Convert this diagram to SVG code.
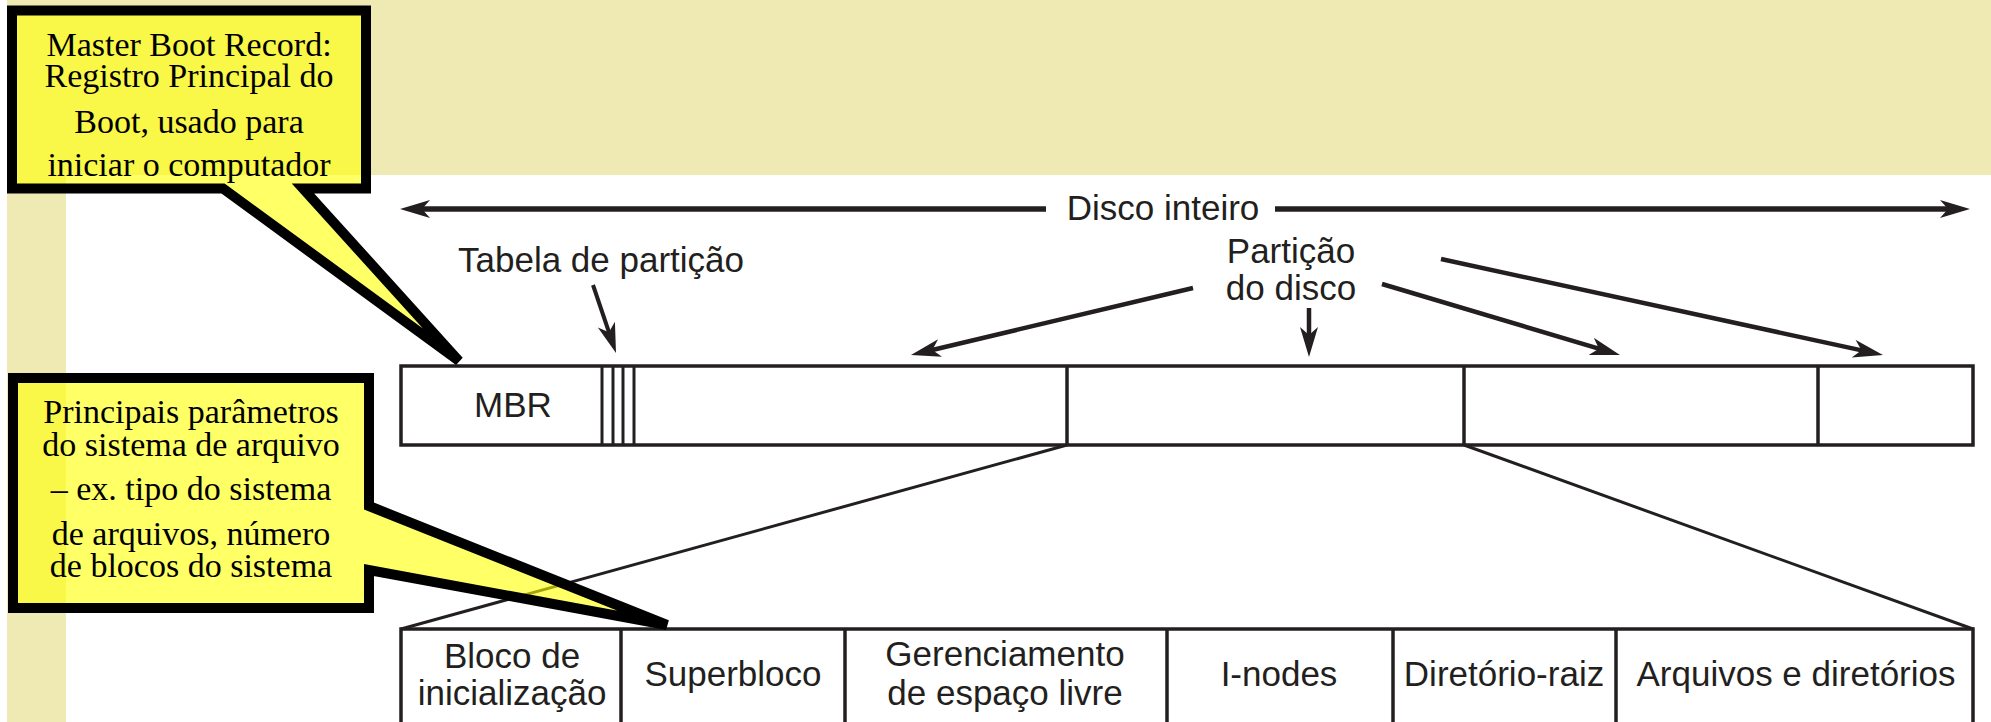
<svg xmlns="http://www.w3.org/2000/svg" width="1991" height="722" viewBox="0 0 1991 722">
<style>
.lbl{font-family:"Liberation Sans",Arial,Helvetica,sans-serif;font-size:35px;fill:#231f20;text-anchor:middle}
.ctxt{font-family:"Liberation Serif","Times New Roman",serif;font-size:34px;fill:#000;text-anchor:middle}
.bar{fill:#fff;stroke:#231f20;stroke-width:3.5}
.ln{stroke:#231f20;fill:none}
.callout{fill:#ffff00;fill-opacity:0.6;stroke:#000;stroke-width:10;stroke-linejoin:miter;stroke-miterlimit:4}
</style>
<defs>
<marker id="ah" markerUnits="userSpaceOnUse" markerWidth="32" markerHeight="20" refX="20" refY="9" orient="auto">
<path d="M0,0 L30,9 L0,18 L8,9 Z" fill="#231f20"/>
</marker>
</defs>
<rect width="1991" height="722" fill="#fff"/>
<g id="background">
<rect x="7" y="0" width="1984" height="175" fill="#efeab4"/>
<rect x="7" y="0" width="59" height="722" fill="#efeab4"/>
</g>
<g id="disk">
<rect class="bar" x="401" y="366" width="1572" height="79"/>
<line class="ln" x1="602" y1="366" x2="602" y2="445" stroke-width="3"/>
<line class="ln" x1="613" y1="366" x2="613" y2="445" stroke-width="3"/>
<line class="ln" x1="623" y1="366" x2="623" y2="445" stroke-width="3"/>
<line class="ln" x1="634" y1="366" x2="634" y2="445" stroke-width="3"/>
<line class="ln" x1="1067" y1="366" x2="1067" y2="445" stroke-width="3.5"/>
<line class="ln" x1="1464" y1="366" x2="1464" y2="445" stroke-width="3.5"/>
<line class="ln" x1="1818" y1="366" x2="1818" y2="445" stroke-width="3.5"/>
<text class="lbl" x="513" y="417">MBR</text>
</g>
<g id="partition-layout">
<path class="ln" stroke-width="3.5" d="M401,730 V629 H1973 V730"/>
<line class="ln" x1="621" y1="629" x2="621" y2="730" stroke-width="3.5"/>
<line class="ln" x1="845" y1="629" x2="845" y2="730" stroke-width="3.5"/>
<line class="ln" x1="1167" y1="629" x2="1167" y2="730" stroke-width="3.5"/>
<line class="ln" x1="1393" y1="629" x2="1393" y2="730" stroke-width="3.5"/>
<line class="ln" x1="1616" y1="629" x2="1616" y2="730" stroke-width="3.5"/>
<text class="lbl" x="512" y="668">Bloco de</text>
<text class="lbl" x="512" y="705">inicialização</text>
<text class="lbl" x="733" y="686">Superbloco</text>
<text class="lbl" x="1005" y="666">Gerenciamento</text>
<text class="lbl" x="1005" y="705">de espaço livre</text>
<text class="lbl" x="1279" y="686">I-nodes</text>
<text class="lbl" x="1504" y="686">Diretório-raiz</text>
<text class="lbl" x="1796" y="686">Arquivos e diretórios</text>
</g>
<g id="labels">
<text class="lbl" x="1163" y="220">Disco inteiro</text>
<text class="lbl" x="458" y="272" style="text-anchor:start">Tabela de partição</text>
<text class="lbl" x="1291" y="263">Partição</text>
<text class="lbl" x="1291" y="300">do disco</text>
</g>
<g id="connectors">
<line class="ln" x1="1046" y1="209" x2="410" y2="209" stroke-width="5.5" marker-end="url(#ah)"/>
<line class="ln" x1="1275" y1="209" x2="1960" y2="209" stroke-width="5.5" marker-end="url(#ah)"/>
<line class="ln" x1="593" y1="285" x2="612.8" y2="343.5" stroke-width="4" marker-end="url(#ah)"/>
<line class="ln" x1="1193" y1="288" x2="920.7" y2="352.7" stroke-width="4.5" marker-end="url(#ah)"/>
<line class="ln" x1="1309" y1="308" x2="1309" y2="347" stroke-width="4.5" marker-end="url(#ah)"/>
<line class="ln" x1="1382" y1="284" x2="1610.4" y2="352.1" stroke-width="4.5" marker-end="url(#ah)"/>
<line class="ln" x1="1441" y1="259" x2="1873.2" y2="352.9" stroke-width="4.5" marker-end="url(#ah)"/>
<line class="ln" x1="1067" y1="445" x2="401" y2="629" stroke-width="3"/>
<line class="ln" x1="1464" y1="445" x2="1973" y2="629" stroke-width="3"/>
</g>
<g id="callout-mbr">
<path class="callout" d="M12,10.5 H366 V188.5 H303 L459,361 L223,188.5 H12 Z"/>
<text class="ctxt" x="189" y="56">Master Boot Record:</text>
<text class="ctxt" x="189" y="87">Registro Principal do</text>
<text class="ctxt" x="189" y="133">Boot, usado para</text>
<text class="ctxt" x="189" y="176">iniciar o computador</text>
</g>
<g id="callout-superblock">
<path class="callout" d="M13,378 H369 V506 L667,625 L369,570 V608 H13 Z"/>
<text class="ctxt" x="191" y="423">Principais parâmetros</text>
<text class="ctxt" x="191" y="456">do sistema de arquivo</text>
<text class="ctxt" x="191" y="500">– ex. tipo do sistema</text>
<text class="ctxt" x="191" y="545">de arquivos, número</text>
<text class="ctxt" x="191" y="577">de blocos do sistema</text>
</g>
</svg>
